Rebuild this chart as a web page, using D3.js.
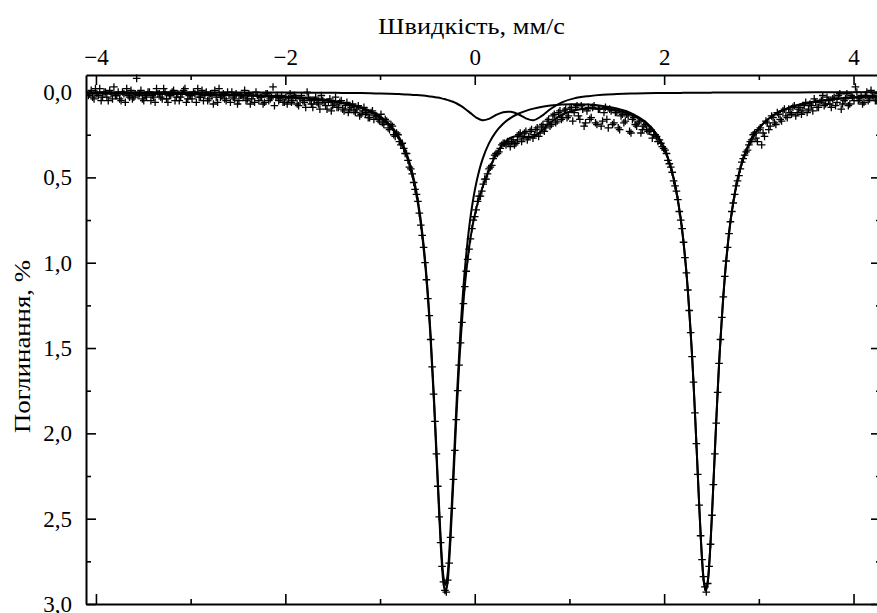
<!DOCTYPE html>
<html>
<head>
<meta charset="utf-8">
<script src="https://cdn.jsdelivr.net/npm/d3@7"></script>
<style>
  html, body { margin: 0; padding: 0; background: #fff; }
  svg { display: block; }
  text { font-family: "Liberation Serif", "Times New Roman", serif; fill: #000; }
</style>
</head>
<body>
<svg id="chart" width="877" height="613"></svg>
<script>
// ---------------- DATA ----------------
const xTitle = "Швидкість, мм/с";
const yTitle = "Поглинання, %";

const xMajorTicks = [-4, -2, 0, 2, 4];
const xMajorLabels = ["\u22124", "\u22122", "0", "2", "4"];
const xMinorTicks = [-3, -1, 1, 3];
const yMajorTicks = [0, 0.5, 1, 1.5, 2, 2.5, 3];
const yMajorLabels = ["0,0", "0,5", "1,0", "1,5", "2,0", "2,5", "3,0"];
const yMinorTicks = [0.25, 0.75, 1.25, 1.75, 2.25, 2.75];

// measured spectrum, even channels (velocity, mm/s / absorption, %)
const velocity = [
  -4.08,-4.05,-4.02,-3.99,-3.96,-3.93,-3.90,-3.87,-3.84,-3.81,
  -3.78,-3.75,-3.72,-3.69,-3.66,-3.63,-3.60,-3.57,-3.54,-3.51,
  -3.48,-3.45,-3.42,-3.39,-3.36,-3.33,-3.30,-3.27,-3.24,-3.21,
  -3.18,-3.15,-3.12,-3.09,-3.06,-3.03,-3.00,-2.97,-2.94,-2.91,
  -2.88,-2.85,-2.82,-2.79,-2.76,-2.73,-2.70,-2.67,-2.64,-2.61,
  -2.58,-2.55,-2.52,-2.49,-2.46,-2.43,-2.40,-2.37,-2.34,-2.31,
  -2.28,-2.25,-2.22,-2.19,-2.16,-2.13,-2.10,-2.07,-2.04,-2.01,
  -1.98,-1.95,-1.92,-1.89,-1.86,-1.83,-1.80,-1.77,-1.74,-1.71,
  -1.68,-1.65,-1.62,-1.59,-1.56,-1.53,-1.50,-1.47,-1.44,-1.41,
  -1.38,-1.35,-1.32,-1.29,-1.26,-1.23,-1.20,-1.17,-1.14,-1.11,
  -1.08,-1.05,-1.02,
  -0.99,-0.96,-0.93,-0.90,-0.87,-0.84,-0.81,-0.78,-0.75,-0.72,
  -0.69,-0.66,-0.63,-0.60,-0.57,-0.54,-0.51,-0.48,-0.45,-0.42,
  -0.39,-0.36,-0.33,-0.30,-0.27,-0.24,-0.21,-0.18,-0.15,-0.12,
  -0.09,-0.06,-0.03,0.00,0.03,0.06,0.09,0.12,0.15,0.18,
  0.21,0.24,0.27,0.30,0.33,
  0.36,0.39,0.42,0.45,0.48,0.51,0.54,0.57,0.60,0.63,
  0.66,0.69,0.72,0.75,0.78,0.81,0.84,0.87,0.90,0.93,
  0.96,0.99,1.02,1.05,1.08,1.11,1.14,1.17,1.20,1.23,
  1.26,1.29,1.32,1.35,1.38,1.41,1.44,1.47,1.50,1.53,
  1.56,1.59,1.62,1.65,1.68,1.71,1.74,1.77,1.80,1.83,
  1.86,1.89,1.92,1.95,
  1.98,2.01,2.04,2.07,2.10,2.13,2.16,2.19,2.22,2.25,
  2.28,2.31,2.34,2.37,2.40,2.43,2.46,2.49,2.52,2.55,
  2.58,2.61,2.64,2.67,2.70,2.73,2.76,2.79,2.82,2.85,
  2.88,2.91,
  2.94,2.97,3.00,3.03,3.06,3.09,3.12,3.15,3.18,3.21,
  3.24,3.27,3.30,3.33,3.36,3.39,3.42,3.45,3.48,3.51,
  3.54,3.57,3.60,3.63,3.66,3.69,3.72,3.75,3.78,3.81,
  3.84,3.87,3.90,3.93,3.96,3.99,4.02,4.05,4.08,4.11,
  4.14,4.17,4.20,4.23,4.26
];
const absorption = [
  0.02,-0.01,0.04,0.01,-0.02,0.03,0.00,0.05,0.01,-0.03,
  0.02,0.04,0.00,0.06,0.02,-0.01,0.03,-0.08,0.01,0.04,
  0.02,0.00,0.05,0.03,-0.02,0.01,0.04,0.00,0.06,0.02,
  -0.01,0.03,0.05,0.01,-0.02,0.04,0.02,0.00,0.06,0.03,
  -0.01,0.02,0.05,0.01,0.07,0.03,-0.02,0.02,0.04,0.00,
  0.06,0.03,0.01,0.05,0.02,-0.01,0.04,0.07,0.02,0.00,
  0.05,0.03,0.06,0.01,0.04,-0.03,0.03,0.05,0.02,0.06,
  0.07,0.01,0.05,0.03,0.08,0.02,0.06,0.00,0.05,0.09,
  0.03,0.07,0.02,0.06,0.10,0.04,0.08,0.03,0.09,0.05,
  0.11,0.06,0.10,0.07,0.12,0.08,0.13,0.09,0.12,0.15,
  0.11,0.14,0.16,
  0.13,0.19,0.17,0.22,0.20,0.26,0.25,0.31,0.33,0.36,
  0.44,0.48,0.57,0.64,0.78,0.91,1.10,1.31,1.61,1.93,
  2.31,2.64,2.87,2.93,2.76,2.44,2.10,1.75,1.47,1.24,
  1.05,0.92,0.80,0.73,0.64,0.61,0.54,0.51,0.45,0.43,
  0.37,0.36,0.33,0.30,0.31,
  0.30,0.29,0.31,0.28,0.24,0.27,0.23,0.26,0.22,0.25,
  0.21,0.24,0.19,0.21,0.16,0.19,0.13,0.17,0.11,0.15,
  0.10,0.14,0.09,0.12,0.08,0.16,0.10,0.18,0.09,0.15,
  0.08,0.19,0.10,0.17,0.09,0.21,0.11,0.18,0.12,0.22,
  0.13,0.17,0.14,0.24,0.15,0.20,0.17,0.22,0.19,0.23,
  0.22,0.25,0.26,0.28,
  0.32,0.34,0.40,0.44,0.52,0.58,0.70,0.80,0.97,1.16,
  1.41,1.70,2.06,2.42,2.74,2.90,2.88,2.65,2.30,1.94,
  1.59,1.32,1.08,0.91,0.76,0.65,0.55,0.49,0.41,0.37,
  0.34,0.29,
  0.25,0.27,0.22,0.31,0.26,0.18,0.20,0.15,0.19,0.13,
  0.17,0.10,0.15,0.12,0.09,0.14,0.10,0.13,0.08,0.12,
  0.07,0.11,0.06,0.09,0.05,0.08,0.03,0.07,0.04,0.08,
  0.02,0.10,0.05,0.01,0.07,0.03,-0.03,0.05,0.02,0.06,
  0.00,0.04,0.02,0.05,0.01
];

// measured spectrum, odd channels
const velocityOdd = [
  -4.065,-4.035,-4.005,-3.975,-3.945,-3.915,-3.885,-3.855,-3.825,-3.795,
  -3.765,-3.735,-3.705,-3.675,-3.645,-3.615,-3.585,-3.555,-3.525,-3.495,
  -3.465,-3.435,-3.405,-3.375,-3.345,-3.315,-3.285,-3.255,-3.225,-3.195,
  -3.165,-3.135,-3.105,-3.075,-3.045,-3.015,-2.985,-2.955,-2.925,-2.895,
  -2.865,-2.835,-2.805,-2.775,-2.745,-2.715,-2.685,-2.655,-2.625,-2.595,
  -2.565,-2.535,-2.505,-2.475,-2.445,-2.415,-2.385,-2.355,-2.325,-2.295,
  -2.265,-2.235,-2.205,-2.175,-2.145,-2.115,-2.085,-2.055,-2.025,-1.995,
  -1.965,-1.935,-1.905,-1.875,-1.845,-1.815,-1.785,-1.755,-1.725,-1.695,
  -1.665,-1.635,-1.605,-1.575,-1.545,-1.515,-1.485,-1.455,-1.425,-1.395,
  -1.365,-1.335,-1.305,-1.275,-1.245,-1.215,-1.185,-1.155,-1.125,-1.095,
  -1.065,-1.035,-1.005,
  -0.975,-0.945,-0.915,-0.885,-0.855,-0.825,-0.795,-0.765,-0.735,-0.705,
  -0.675,-0.645,-0.615,-0.585,-0.555,-0.525,-0.495,-0.465,-0.435,-0.405,
  -0.375,-0.345,-0.315,-0.285,-0.255,-0.225,-0.195,-0.165,-0.135,-0.105,
  -0.075,-0.045,-0.015,0.015,0.045,0.075,0.105,0.135,0.165,0.195,
  0.225,0.255,0.285,0.315,
  0.345,0.375,0.405,0.435,0.465,0.495,0.525,0.555,0.585,0.615,
  0.645,0.675,0.705,0.735,0.765,0.795,0.825,0.855,0.885,0.915,
  0.945,0.975,1.005,1.035,1.065,1.095,1.125,1.155,1.185,1.215,
  1.245,1.275,1.305,1.335,1.365,1.395,1.425,1.455,1.485,1.515,
  1.545,1.575,1.605,1.635,1.665,1.695,1.725,1.755,1.785,1.815,
  1.845,1.875,1.905,1.935,1.965,
  1.995,2.025,2.055,2.085,2.115,2.145,2.175,2.205,2.235,2.265,
  2.295,2.325,2.355,2.385,2.415,2.445,2.475,2.505,2.535,2.565,
  2.595,2.625,2.655,2.685,2.715,2.745,2.775,2.805,2.835,2.865,
  2.895,
  2.925,2.955,2.985,3.015,3.045,3.075,3.105,3.135,3.165,3.195,
  3.225,3.255,3.285,3.315,3.345,3.375,3.405,3.435,3.465,3.495,
  3.525,3.555,3.585,3.615,3.645,3.675,3.705,3.735,3.765,3.795,
  3.825,3.855,3.885,3.915,3.945,3.975,4.005,4.035,4.065,4.095,
  4.125,4.155,4.185,4.215,4.245
];
const absorptionOdd = [
  0.01,0.03,-0.02,0.02,0.05,0.00,0.03,-0.01,0.04,0.02,
  0.00,0.05,0.01,-0.02,0.03,0.04,0.01,0.02,-0.01,0.05,
  0.03,0.00,0.02,0.06,0.01,0.03,-0.02,0.04,0.02,0.00,
  0.05,0.01,0.03,-0.01,0.06,0.02,0.04,0.01,-0.02,0.03,
  0.05,0.00,0.04,0.02,-0.01,0.06,0.03,0.01,0.05,0.02,
  0.00,0.04,0.07,0.02,0.03,0.05,0.01,0.04,0.06,0.02,
  0.03,0.07,0.01,0.05,0.03,0.08,0.02,0.04,0.06,0.03,
  0.04,0.06,0.02,0.07,0.04,0.05,0.09,0.03,0.07,0.05,
  0.06,0.10,0.05,0.08,0.06,0.11,0.07,0.09,0.06,0.10,
  0.08,0.12,0.09,0.11,0.10,0.14,0.11,0.13,0.15,0.12,
  0.16,0.14,0.17,
  0.18,0.16,0.21,0.19,0.25,0.24,0.29,0.30,0.36,0.40,
  0.45,0.53,0.60,0.71,0.84,1.00,1.21,1.45,1.77,2.12,
  2.49,2.78,2.92,2.86,2.61,2.27,1.92,1.60,1.35,1.14,
  0.98,0.86,0.75,0.69,0.61,0.58,0.51,0.48,0.44,0.39,
  0.36,0.35,0.31,0.30,
  0.29,0.32,0.28,0.30,0.25,0.29,0.24,0.28,0.23,0.27,
  0.22,0.26,0.20,0.23,0.17,0.20,0.14,0.18,0.12,0.16,
  0.11,0.15,0.10,0.17,0.09,0.14,0.08,0.20,0.11,0.16,
  0.09,0.18,0.10,0.20,0.12,0.16,0.10,0.19,0.12,0.21,
  0.14,0.18,0.13,0.23,0.16,0.19,0.18,0.24,0.20,0.22,
  0.23,0.27,0.25,0.29,0.30,
  0.33,0.36,0.42,0.47,0.55,0.63,0.75,0.88,1.06,1.28,
  1.55,1.88,2.24,2.60,2.84,2.93,2.78,2.48,2.12,1.76,
  1.45,1.20,0.99,0.83,0.70,0.60,0.52,0.45,0.39,0.35,
  0.31,
  0.28,0.24,0.29,0.21,0.24,0.17,0.22,0.14,0.18,0.12,
  0.16,0.11,0.14,0.10,0.13,0.08,0.12,0.09,0.11,0.06,
  0.10,0.08,0.04,0.09,0.06,0.02,0.07,0.05,0.09,0.03,
  0.06,0.01,0.07,0.04,0.08,0.02,0.05,0.00,0.04,0.07,
  0.02,0.05,-0.01,0.03,0.05
];

// fitted curves
const fitVelocity = [
  -4.1,-3.6,-3.1,-2.6,-2.2,-1.9,-1.6,-1.4,-1.2,-1.05,
  -0.9,-0.8,-0.71,-0.64,-0.58,-0.52,-0.47,-0.43,-0.39,-0.35,
  -0.33,-0.31,-0.29,-0.27,-0.23,-0.19,-0.15,-0.10,-0.04,0.02,
  0.08,0.15,0.22,0.30,0.38,0.46,0.54,0.62,0.70,0.80,
  0.92,1.05,1.2,1.35,1.5,1.65,1.8,1.92,2.02,2.10,
  2.17,2.23,2.29,2.33,2.37,2.40,2.42,2.44,2.46,2.48,
  2.51,2.55,2.59,2.65,2.71,2.78,2.86,2.96,3.08,3.22,
  3.4,3.6,3.85,4.1,4.3
];
const fitTotal = [
  0.007,0.009,0.012,0.017,0.024,0.033,0.048,0.065,0.094,0.132,
  0.198,0.275,0.390,0.535,0.728,1.031,1.412,1.823,2.305,2.742,
  2.880,2.932,2.887,2.754,2.330,1.863,1.468,1.110,0.838,0.674,
  0.562,0.458,0.372,0.304,0.267,0.257,0.264,0.261,0.231,0.178,
  0.133,0.108,0.097,0.097,0.108,0.132,0.180,0.252,0.360,0.508,
  0.725,1.026,1.501,1.934,2.421,2.737,2.874,2.923,2.874,2.737,
  2.421,1.933,1.499,1.024,0.721,0.503,0.353,0.243,0.167,0.115,
  0.079,0.056,0.039,0.029,0.024
];
const fitMainDoublet = [
  0.006,0.008,0.011,0.016,0.022,0.030,0.044,0.061,0.088,0.124,
  0.188,0.263,0.376,0.518,0.709,1.009,1.386,1.794,2.272,2.705,
  2.841,2.889,2.841,2.705,2.273,1.796,1.388,1.012,0.713,0.523,
  0.397,0.301,0.236,0.186,0.151,0.127,0.110,0.097,0.087,0.079,
  0.073,0.071,0.073,0.081,0.096,0.123,0.173,0.246,0.355,0.503,
  0.721,1.022,1.497,1.930,2.418,2.733,2.870,2.919,2.870,2.733,
  2.417,1.930,1.496,1.020,0.718,0.500,0.350,0.241,0.166,0.114,
  0.077,0.054,0.038,0.028,0.023
];
const fitMinorDoublet = [
  0.001,0.001,0.001,0.002,0.002,0.003,0.004,0.005,0.006,0.008,
  0.010,0.012,0.014,0.017,0.019,0.022,0.026,0.029,0.032,0.037,
  0.040,0.042,0.046,0.049,0.057,0.067,0.080,0.099,0.125,0.151,
  0.165,0.157,0.136,0.118,0.116,0.130,0.154,0.165,0.143,0.099,
  0.060,0.037,0.024,0.016,0.012,0.009,0.007,0.006,0.005,0.005,
  0.005,0.004,0.004,0.004,0.004,0.004,0.004,0.004,0.004,0.004,
  0.003,0.003,0.003,0.003,0.003,0.003,0.002,0.002,0.002,0.002,
  0.002,0.001,0.001,0.001,0.001
];

// ---------------- CHART ----------------
const svg = d3.select("#chart");
const mLeft = 86, mRight = 881, mTop = 75, mBottom = 604;
const FONT = '"Liberation Serif", "Times New Roman", serif';

const x = d3.scaleLinear().domain([-4.105, 4.29]).range([mLeft, mRight]);
const y = d3.scaleLinear().domain([-0.1, 3.0]).range([mTop, mBottom]);

svg.append("defs").append("clipPath").attr("id", "plotClip")
  .append("rect").attr("x", mLeft).attr("y", mTop - 8)
  .attr("width", mRight - mLeft).attr("height", mBottom - mTop + 8);

const plot = svg.append("g").attr("clip-path", "url(#plotClip)");

// data points (+)
const points = d3.zip(velocity, absorption).concat(d3.zip(velocityOdd, absorptionOdd));
plot.append("g").selectAll("path")
  .data(points)
  .join("path")
  .attr("transform", d => `translate(${x(d[0])},${y(d[1])})`)
  .attr("d", "M-3.8,0H3.8M0,-3.8V3.8")
  .attr("stroke", "#000")
  .attr("stroke-width", 1.3)
  .attr("fill", "none");

// fitted lines
const line = d3.line()
  .x(d => x(d[0]))
  .y(d => y(d[1]))
  .curve(d3.curveCatmullRom.alpha(0.5));

[fitMinorDoublet, fitMainDoublet, fitTotal].forEach(series => {
  plot.append("path")
    .datum(d3.zip(fitVelocity, series))
    .attr("d", line)
    .attr("fill", "none")
    .attr("stroke", "#000")
    .attr("stroke-width", 2)
    .attr("stroke-linejoin", "round");
});

// axes
function styleAxis(g) {
  g.attr("font-family", null).attr("font-size", null);
  g.selectAll("path.domain").attr("stroke", "#000").attr("stroke-width", 2);
  g.selectAll(".tick line").attr("stroke", "#000").attr("stroke-width", 1.6);
  g.selectAll(".tick text")
    .attr("font-family", FONT)
    .attr("font-size", 23)
    .style("font-family", FONT)
    .style("font-size", "23px");
}

// top axis
const gTop = svg.append("g").attr("transform", `translate(0,${mTop})`)
  .call(d3.axisTop(x).tickValues(xMajorTicks).tickSize(-10).tickSizeOuter(0)
    .tickPadding(10).tickFormat((d, i) => xMajorLabels[i]));
styleAxis(gTop);
const gTopMinor = svg.append("g").attr("transform", `translate(0,${mTop})`)
  .call(d3.axisTop(x).tickValues(xMinorTicks).tickSize(-5).tickSizeOuter(0).tickFormat(""));
styleAxis(gTopMinor);
gTopMinor.select("path.domain").remove();

// bottom axis
const gBot = svg.append("g").attr("transform", `translate(0,${mBottom})`)
  .call(d3.axisBottom(x).tickValues(xMajorTicks).tickSize(-10).tickSizeOuter(0).tickFormat(""));
styleAxis(gBot);
const gBotMinor = svg.append("g").attr("transform", `translate(0,${mBottom})`)
  .call(d3.axisBottom(x).tickValues(xMinorTicks).tickSize(-5).tickSizeOuter(0).tickFormat(""));
styleAxis(gBotMinor);
gBotMinor.select("path.domain").remove();

// left axis
const gLeft = svg.append("g").attr("transform", `translate(${mLeft},0)`)
  .call(d3.axisLeft(y).tickValues(yMajorTicks).tickSize(-10).tickSizeOuter(0)
    .tickPadding(14).tickFormat((d, i) => yMajorLabels[i]));
styleAxis(gLeft);
const gLeftMinor = svg.append("g").attr("transform", `translate(${mLeft},0)`)
  .call(d3.axisLeft(y).tickValues(yMinorTicks).tickSize(-5).tickSizeOuter(0).tickFormat(""));
styleAxis(gLeftMinor);
gLeftMinor.select("path.domain").remove();

// right axis
const gRight = svg.append("g").attr("transform", `translate(${mRight},0)`)
  .call(d3.axisRight(y).tickValues(yMajorTicks).tickSize(-10).tickSizeOuter(0).tickFormat(""));
styleAxis(gRight);
const gRightMinor = svg.append("g").attr("transform", `translate(${mRight},0)`)
  .call(d3.axisRight(y).tickValues(yMinorTicks).tickSize(-5).tickSizeOuter(0).tickFormat(""));
styleAxis(gRightMinor);
gRightMinor.select("path.domain").remove();

// titles
svg.append("text")
  .attr("x", 378).attr("y", 34)
  .attr("font-family", FONT)
  .attr("font-size", 23)
  .attr("textLength", 187)
  .attr("lengthAdjust", "spacingAndGlyphs")
  .text(xTitle);

svg.append("text")
  .attr("transform", "translate(30,433) rotate(-90)")
  .attr("font-family", FONT)
  .attr("font-size", 23)
  .attr("textLength", 173)
  .attr("lengthAdjust", "spacingAndGlyphs")
  .text(yTitle);
</script>
</body>
</html>
